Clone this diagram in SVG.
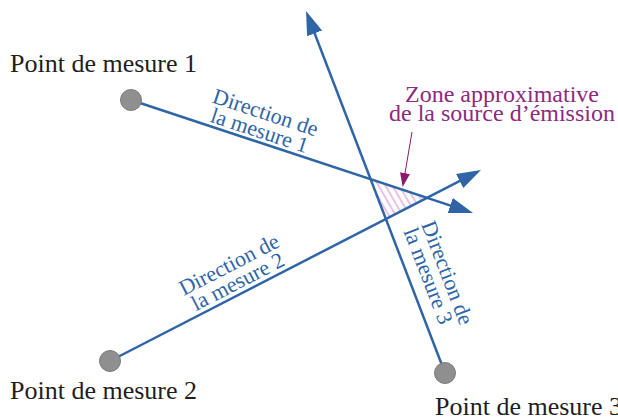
<svg xmlns="http://www.w3.org/2000/svg" width="618" height="420" viewBox="0 0 618 420">
<style>
.dir{stroke:#2f65a7;stroke-width:2.5;fill:none}
.pt{fill:#8f8f8f;stroke:#7a7a7a;stroke-width:1}
.lbl{font-family:"Liberation Serif","Times New Roman",serif;font-size:26px;fill:#1e1e1e}
.dlbl{font-family:"Liberation Serif","Times New Roman",serif;font-size:22px;fill:#2f65a7}
.zlbl{font-family:"Liberation Serif","Times New Roman",serif;font-size:24px;fill:#8c2a80;text-anchor:middle}
</style>
<defs>
<marker id="ah" markerUnits="userSpaceOnUse" markerWidth="26" markerHeight="18" refX="14" refY="8" orient="auto">
<path d="M0,0 L24,8 L0,16 Z" fill="#2f65a7"/>
</marker>
<marker id="ahz" markerUnits="userSpaceOnUse" markerWidth="16" markerHeight="12" refX="6" refY="5" orient="auto">
<path d="M0,0 L14,5 L0,10 Z" fill="#8b1a6b"/>
</marker>
<pattern id="hatch" patternUnits="userSpaceOnUse" width="6" height="6" patternTransform="rotate(-30)">
<line x1="1" y1="0" x2="1" y2="6" stroke="#d99ad2" stroke-width="1.2"/>
</pattern>
</defs>
<g id="zone">
<polygon points="370.6,179.2 427,197.8 385.9,219" fill="url(#hatch)"/>
</g>
<g id="connectors">
<line class="dir" x1="131" y1="100" x2="463.5" y2="209.9" marker-end="url(#ah)"/>
<line class="dir" x1="110" y1="361" x2="472.1" y2="174.6" marker-end="url(#ah)"/>
<line class="dir" x1="445" y1="373" x2="309.6" y2="20.3" marker-end="url(#ah)"/>
<line x1="412" y1="132" x2="404" y2="179" stroke="#8b1a6b" stroke-width="1" marker-end="url(#ahz)"/>
</g>
<g id="point1">
<circle class="pt" cx="131" cy="100" r="10.5"/>
<text class="lbl" x="10" y="71.5">Point de mesure 1</text>
</g>
<g id="point2">
<circle class="pt" cx="110" cy="361" r="10.5"/>
<text class="lbl" x="10" y="399">Point de mesure 2</text>
</g>
<g id="point3">
<circle class="pt" cx="445" cy="373" r="10.5"/>
<text class="lbl" x="435" y="415">Point de mesure 3</text>
</g>
<g id="label1" transform="translate(207,125) rotate(18.28)">
<text class="dlbl" x="1" y="-4">la mesure 1</text>
<text class="dlbl" x="-3" y="-23">Direction de</text>
</g>
<g id="label2" transform="translate(200,314.7) rotate(-27.24)">
<text class="dlbl" x="-2" y="-5">la mesure 2</text>
<text class="dlbl" x="-6" y="-24">Direction de</text>
</g>
<g id="label3" transform="translate(389.3,228) rotate(69)">
<text class="dlbl" x="8" y="-12">la mesure 3</text>
<text class="dlbl" x="8" y="-31">Direction de</text>
</g>
<g id="zonelabel">
<text class="zlbl" x="502" y="101.5">Zone approximative</text>
<text class="zlbl" x="502" y="120.5">de la source d’émission</text>
</g>
</svg>
